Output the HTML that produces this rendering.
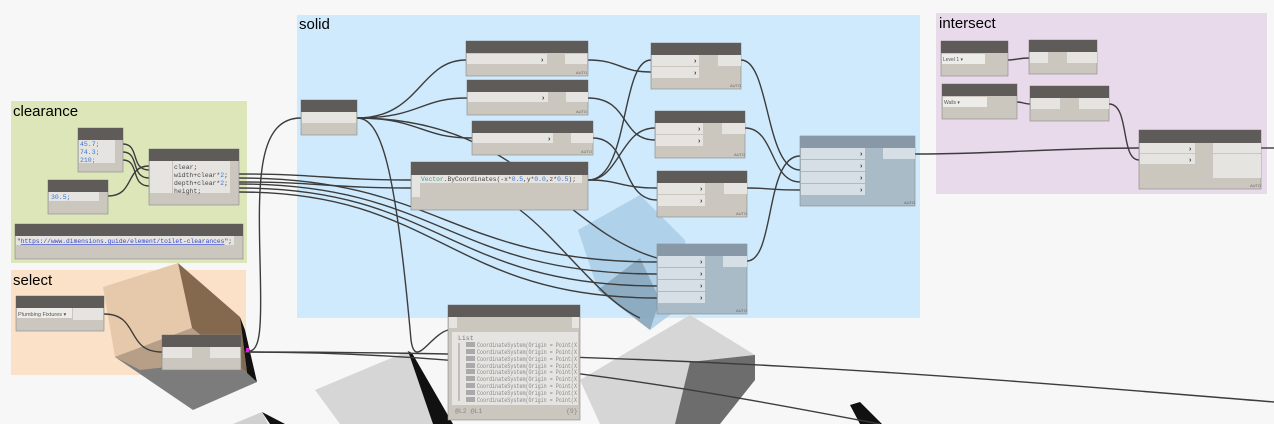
<!DOCTYPE html>
<html><head><meta charset="utf-8"><style>
body{margin:0;background:#f7f7f7;}
svg{display:block;font-family:"Liberation Sans",sans-serif;}
.m{font-family:"Liberation Mono",monospace;font-size:6.5px;}
</style></head><body>
<svg width="1274" height="424" viewBox="0 0 1274 424" xmlns="http://www.w3.org/2000/svg">
<rect width="1274" height="424" fill="#f7f7f7"/>
<rect x="11" y="101" width="236" height="162" fill="#dce6b9"/>
<rect x="11" y="270" width="235" height="105" fill="#fae1c8"/>
<rect x="297" y="15" width="623" height="303" fill="#cfeafc"/>
<rect x="936" y="13" width="331" height="181" fill="#e8d9eb"/>
<text x="13" y="116" font-size="15">clearance</text>
<text x="13" y="285" font-size="15">select</text>
<text x="299" y="29" font-size="15">solid</text>
<text x="939" y="28" font-size="15">intersect</text>

<!-- background geometry -->
<polygon points="103,287 178,263 192,328 115,357" fill="#e6c9aa"/>
<polygon points="178,263 240,317 247,373 192,328" fill="#85694f"/>
<polygon points="115,357 192,328 247,373 257,382 193,410" fill="#7c7c7c"/>
<polygon points="115,357 192,328 230,360 140,370" fill="#b79e86"/>
<polygon points="240,317 245,330 257,382 247,373" fill="#111"/>
<polygon points="578,230 640,195 685,240 690,300 650,330 598,290" fill="#a6cbe4" opacity="0.8"/>
<polygon points="598,290 650,330 660,300 640,258" fill="#7f9cb0" opacity="0.7"/>
<polygon points="315,390 408,351 452,424 340,424" fill="#d6d6d6"/>
<polygon points="408,351 412,353 453,424 433,424" fill="#111"/>
<polygon points="580,380 690,315 755,355 690,424 600,424" fill="#d6d6d6"/>
<polygon points="690,362 755,355 755,380 720,424 675,424" fill="#6d6d6d"/>
<polygon points="262,412 285,424 270,424" fill="#111"/>
<polygon points="233,424 262,412 268,424" fill="#d0d0d0"/>
<polygon points="850,405 860,402 882,424 860,424" fill="#111"/>

<g fill="none" stroke="#3c3c3c" stroke-width="1.4">
<path d="M123,144 C140,144 130,170 149,170"/>
<path d="M123,152 C140,152 130,178 149,178"/>
<path d="M123,160 C140,160 130,186 149,186"/>
<path d="M108,196 C135,196 125,166 149,166"/>
<path d="M239,174 C320,174 330,180 411,180"/>
<path d="M239,182 C320,182 330,188 411,188"/>
<path d="M239,178 C440,178 450,262 657,262"/>
<path d="M239,184 C440,184 450,274 657,274"/>
<path d="M239,188 C440,188 450,286 657,286"/>
<path d="M239,192 C440,192 450,298 657,298"/>
<path d="M104,314 C140,314 125,352 162,352"/>
<path d="M245,352 C700,352 1000,380 1274,402"/>
<path d="M245,352 C500,352 700,390 880,424"/>
<path d="M245,352 C260,352 262,340 260,260 C258,180 258,118 301,118"/>
<path d="M357,118 C420,118 420,60 466,60"/>
<path d="M357,118 C420,118 420,98 467,98"/>
<path d="M357,118 C420,118 420,138 472,138"/>
<path d="M357,118 C380,118 395,160 411,340 C415,370 430,335 448,330"/>
<path d="M357,118 C520,118 560,230 657,258"/>
<path d="M588,60 C620,60 620,72 651,72"/>
<path d="M588,98 C630,98 620,140 655,140"/>
<path d="M593,138 C630,138 620,200 657,200"/>
<path d="M588,180 C630,180 620,60 651,60"/>
<path d="M588,180 C620,180 620,128 655,128"/>
<path d="M588,180 C620,180 620,188 657,188"/>
<path d="M520,210 C560,240 600,300 640,318"/>
<path d="M741,60 C770,60 765,170 800,170"/>
<path d="M745,128 C775,128 770,182 800,182"/>
<path d="M747,188 C770,188 770,190 800,190"/>
<path d="M747,261 C775,261 765,156 800,156"/>
<path d="M915,154 C1000,154 1050,148 1139,148"/>
<path d="M1008,60 C1015,60 1020,58 1029,58"/>
<path d="M1017,102 C1022,102 1025,104 1030,104"/>
<path d="M1109,104 C1130,104 1120,160 1139,160"/>
<path d="M1261,148 L1274,148"/>
</g>

<g>
<rect x="78" y="128" width="45" height="44" fill="#cbc7bf" stroke="#888" stroke-width=".6"/>
<rect x="78" y="128" width="45" height="12" fill="#5e5b59"/>
<rect x="79" y="140" width="36" height="23" fill="#e6e4e0"/>
<text class="m" x="80" y="146" fill="#3a78d6">45.7;</text>
<text class="m" x="80" y="154" fill="#3a78d6">74.3;</text>
<text class="m" x="80" y="162" fill="#3a78d6">210;</text>
<rect x="48" y="180" width="60" height="34" fill="#cbc7bf" stroke="#888" stroke-width=".6"/>
<rect x="48" y="180" width="60" height="12" fill="#5e5b59"/>
<rect x="49" y="192" width="50" height="9" fill="#e6e4e0"/>
<text class="m" x="51" y="199" fill="#3a78d6">30.5;</text>
<rect x="149" y="149" width="90" height="56" fill="#cbc7bf" stroke="#888" stroke-width=".6"/>
<rect x="149" y="149" width="90" height="12" fill="#5e5b59"/>
<rect x="150" y="161" width="22" height="32" fill="#e6e4e0"/>
<rect x="173" y="161" width="57" height="32" fill="#e6e4e0"/>
<text class="m" x="174" y="169" fill="#444">clear;</text>
<text class="m" x="174" y="177" fill="#444" textLength="54" lengthAdjust="spacingAndGlyphs">width+clear*<tspan fill="#3a78d6">2</tspan>;</text>
<text class="m" x="174" y="185" fill="#444" textLength="54" lengthAdjust="spacingAndGlyphs">depth+clear*<tspan fill="#3a78d6">2</tspan>;</text>
<text class="m" x="174" y="193" fill="#444">height;</text>
<rect x="15" y="224" width="228" height="35" fill="#cbc7bf" stroke="#888" stroke-width=".6"/>
<rect x="15" y="224" width="228" height="12" fill="#5e5b59"/>
<rect x="16" y="236" width="218" height="9" fill="#e6e4e0"/>
<text class="m" x="17" y="243" fill="#444" textLength="215" lengthAdjust="spacingAndGlyphs">"<tspan fill="#3344cc" text-decoration="underline">https://www.dimensions.guide/element/toilet-clearances</tspan>";</text>
<rect x="16" y="296" width="88" height="35" fill="#cbc7bf" stroke="#888" stroke-width=".6"/>
<rect x="16" y="296" width="88" height="12" fill="#5e5b59"/>
<rect x="17" y="308" width="55" height="10" fill="#eeece9"/>
<rect x="73" y="308" width="30" height="12" fill="#e6e4e0"/>
<text x="18" y="316" font-size="5.5" fill="#555">Plumbing Fixtures  ▾</text>
<rect x="162" y="335" width="79" height="35" fill="#cbc7bf" stroke="#888" stroke-width=".6"/>
<rect x="162" y="335" width="79" height="12" fill="#5e5b59"/>
<rect x="163" y="347" width="29" height="11" fill="#e6e4e0"/>
<rect x="210" y="347" width="30" height="11" fill="#e6e4e0"/>
<rect x="301" y="100" width="56" height="35" fill="#cbc7bf" stroke="#888" stroke-width=".6"/>
<rect x="301" y="100" width="56" height="12" fill="#5e5b59"/>
<rect x="302" y="112" width="54" height="11" fill="#e6e4e0"/>
<rect x="466" y="41" width="122" height="35" fill="#cbc7bf" stroke="#888" stroke-width=".6"/>
<rect x="466" y="41" width="122" height="12" fill="#5e5b59"/>
<rect x="467" y="54" width="80" height="10" fill="#e6e4e0"/><rect x="565" y="54" width="22" height="10" fill="#e6e4e0"/>
<rect x="467" y="80" width="121" height="35" fill="#cbc7bf" stroke="#888" stroke-width=".6"/>
<rect x="467" y="80" width="121" height="12" fill="#5e5b59"/>
<rect x="468" y="92" width="80" height="10" fill="#e6e4e0"/><rect x="566" y="92" width="22" height="10" fill="#e6e4e0"/>
<rect x="472" y="121" width="121" height="34" fill="#cbc7bf" stroke="#888" stroke-width=".6"/>
<rect x="472" y="121" width="121" height="12" fill="#5e5b59"/>
<rect x="473" y="133" width="80" height="10" fill="#e6e4e0"/><rect x="571" y="133" width="22" height="10" fill="#e6e4e0"/>
<rect x="411" y="162" width="177" height="48" fill="#cbc7bf" stroke="#888" stroke-width=".6"/>
<rect x="411" y="162" width="177" height="13" fill="#5e5b59"/>
<rect x="412" y="175" width="8" height="22" fill="#e6e4e0"/>
<rect x="420" y="175" width="162" height="8" fill="#e6e4e0"/>
<text class="m" x="421" y="181" fill="#3a9a9a" textLength="155" lengthAdjust="spacingAndGlyphs">Vector<tspan fill="#444">.ByCoordinates(-x*</tspan><tspan fill="#3a78d6">0.5</tspan><tspan fill="#444">,y*</tspan><tspan fill="#3a78d6">0.0</tspan><tspan fill="#444">,z*</tspan><tspan fill="#3a78d6">0.5</tspan><tspan fill="#444">);</tspan></text>
<rect x="651" y="43" width="90" height="46" fill="#cbc7bf" stroke="#888" stroke-width=".6"/>
<rect x="651" y="43" width="90" height="12" fill="#5e5b59"/>
<rect x="652" y="55" width="47" height="11" fill="#e6e4e0"/><rect x="652" y="67" width="47" height="11" fill="#e6e4e0"/><rect x="718" y="55" width="23" height="11" fill="#e6e4e0"/>
<rect x="655" y="111" width="90" height="47" fill="#cbc7bf" stroke="#888" stroke-width=".6"/>
<rect x="655" y="111" width="90" height="12" fill="#5e5b59"/>
<rect x="656" y="123" width="47" height="11" fill="#e6e4e0"/><rect x="656" y="135" width="47" height="11" fill="#e6e4e0"/><rect x="722" y="123" width="23" height="11" fill="#e6e4e0"/>
<rect x="657" y="171" width="90" height="46" fill="#cbc7bf" stroke="#888" stroke-width=".6"/>
<rect x="657" y="171" width="90" height="12" fill="#5e5b59"/>
<rect x="658" y="183" width="47" height="11" fill="#e6e4e0"/><rect x="658" y="195" width="47" height="11" fill="#e6e4e0"/><rect x="724" y="183" width="23" height="11" fill="#e6e4e0"/>
<rect x="657" y="244" width="90" height="70" fill="#a9bbc7" stroke="#888" stroke-width=".6"/>
<rect x="657" y="244" width="90" height="12" fill="#8898a6"/>
<rect x="658" y="256" width="47" height="11" fill="#d5dfe5"/><rect x="658" y="268" width="47" height="11" fill="#d5dfe5"/><rect x="658" y="280" width="47" height="11" fill="#d5dfe5"/><rect x="658" y="292" width="47" height="11" fill="#d5dfe5"/><rect x="723" y="256" width="24" height="11" fill="#d5dfe5"/>
<rect x="800" y="136" width="115" height="70" fill="#a9bbc7" stroke="#888" stroke-width=".6"/>
<rect x="800" y="136" width="115" height="12" fill="#8898a6"/>
<rect x="801" y="148" width="64" height="11" fill="#d5dfe5"/><rect x="801" y="160" width="64" height="11" fill="#d5dfe5"/><rect x="801" y="172" width="64" height="11" fill="#d5dfe5"/><rect x="801" y="184" width="64" height="11" fill="#d5dfe5"/><rect x="883" y="148" width="32" height="11" fill="#d5dfe5"/>
<rect x="448" y="305" width="132" height="115" fill="#cbc7bf" stroke="#888" stroke-width=".6"/>
<rect x="448" y="305" width="132" height="12" fill="#5e5b59"/>
<rect x="449" y="317" width="8" height="11" fill="#e6e4e0"/><rect x="572" y="317" width="7" height="11" fill="#e6e4e0"/>
<rect x="452" y="332" width="126" height="73" fill="#e6e4e0"/>
<line x1="459" y1="343" x2="459" y2="401" stroke="#999" stroke-width="1"/>
<text class="m" x="458" y="340" font-size="5.5" fill="#777">List</text>
<g fill="#aaa"><rect x="466" y="342" width="9" height="5"/><rect x="466" y="349" width="9" height="5"/><rect x="466" y="356" width="9" height="5"/><rect x="466" y="363" width="9" height="5"/><rect x="466" y="369" width="9" height="5"/><rect x="466" y="376" width="9" height="5"/><rect x="466" y="383" width="9" height="5"/><rect x="466" y="390" width="9" height="5"/><rect x="466" y="397" width="9" height="5"/></g>
<g class="m" font-size="5.5" fill="#888">
<text x="477" y="347" textLength="100" lengthAdjust="spacingAndGlyphs">CoordinateSystem(Origin = Point(X</text>
<text x="477" y="354" textLength="100" lengthAdjust="spacingAndGlyphs">CoordinateSystem(Origin = Point(X</text>
<text x="477" y="361" textLength="100" lengthAdjust="spacingAndGlyphs">CoordinateSystem(Origin = Point(X</text>
<text x="477" y="368" textLength="100" lengthAdjust="spacingAndGlyphs">CoordinateSystem(Origin = Point(X</text>
<text x="477" y="374" textLength="100" lengthAdjust="spacingAndGlyphs">CoordinateSystem(Origin = Point(X</text>
<text x="477" y="381" textLength="100" lengthAdjust="spacingAndGlyphs">CoordinateSystem(Origin = Point(X</text>
<text x="477" y="388" textLength="100" lengthAdjust="spacingAndGlyphs">CoordinateSystem(Origin = Point(X</text>
<text x="477" y="395" textLength="100" lengthAdjust="spacingAndGlyphs">CoordinateSystem(Origin = Point(X</text>
<text x="477" y="402" textLength="100" lengthAdjust="spacingAndGlyphs">CoordinateSystem(Origin = Point(X</text>
<text x="455" y="413">@L2 @L1</text><text x="566" y="413">{9}</text>
</g>
<rect x="941" y="41" width="67" height="35" fill="#cbc7bf" stroke="#888" stroke-width=".6"/>
<rect x="941" y="41" width="67" height="12" fill="#5e5b59"/>
<rect x="942" y="54" width="43" height="10" fill="#eeece9"/>
<text x="943" y="61" font-size="5" fill="#555">Level 1        ▾</text>
<rect x="1029" y="40" width="68" height="34" fill="#cbc7bf" stroke="#888" stroke-width=".6"/>
<rect x="1029" y="40" width="68" height="12" fill="#5e5b59"/>
<rect x="1030" y="52" width="18" height="11" fill="#e6e4e0"/><rect x="1067" y="52" width="30" height="11" fill="#e6e4e0"/>
<rect x="942" y="84" width="75" height="35" fill="#cbc7bf" stroke="#888" stroke-width=".6"/>
<rect x="942" y="84" width="75" height="12" fill="#5e5b59"/>
<rect x="943" y="97" width="44" height="10" fill="#eeece9"/>
<text x="944" y="104" font-size="5" fill="#555">Walls          ▾</text>
<rect x="1030" y="86" width="79" height="35" fill="#cbc7bf" stroke="#888" stroke-width=".6"/>
<rect x="1030" y="86" width="79" height="12" fill="#5e5b59"/>
<rect x="1031" y="98" width="29" height="11" fill="#e6e4e0"/><rect x="1079" y="98" width="30" height="11" fill="#e6e4e0"/>
<rect x="1139" y="130" width="122" height="59" fill="#cbc7bf" stroke="#888" stroke-width=".6"/>
<rect x="1139" y="130" width="122" height="13" fill="#5e5b59"/>
<rect x="1140" y="143" width="55" height="10" fill="#e6e4e0"/><rect x="1140" y="154" width="55" height="10" fill="#e6e4e0"/>
<rect x="1213" y="143" width="48" height="10" fill="#e6e4e0"/><rect x="1213" y="154" width="48" height="24" fill="#e6e4e0"/>
</g>
<g font-size="7" fill="#333" font-weight="bold">
<text x="541" y="62">›</text><text x="542" y="100">›</text><text x="548" y="141">›</text>
<text x="694" y="63">›</text><text x="694" y="75">›</text>
<text x="698" y="131">›</text><text x="698" y="143">›</text>
<text x="700" y="191">›</text><text x="700" y="203">›</text>
<text x="700" y="264">›</text><text x="700" y="276">›</text><text x="700" y="288">›</text><text x="700" y="300">›</text>
<text x="860" y="156">›</text><text x="860" y="168">›</text><text x="860" y="180">›</text><text x="860" y="192">›</text>
<text x="1189" y="151">›</text><text x="1189" y="162">›</text>
</g>
<g font-size="4" fill="#666">
<text x="576" y="74">AUTO</text><text x="576" y="113">AUTO</text><text x="581" y="153">AUTO</text>
<text x="730" y="87">AUTO</text><text x="734" y="156">AUTO</text><text x="736" y="215">AUTO</text>
<text x="736" y="312">AUTO</text><text x="904" y="204">AUTO</text><text x="1250" y="187">AUTO</text>
</g>
<rect x="246" y="348" width="3" height="4" fill="#e020e0"/>
</svg>
</body></html>
